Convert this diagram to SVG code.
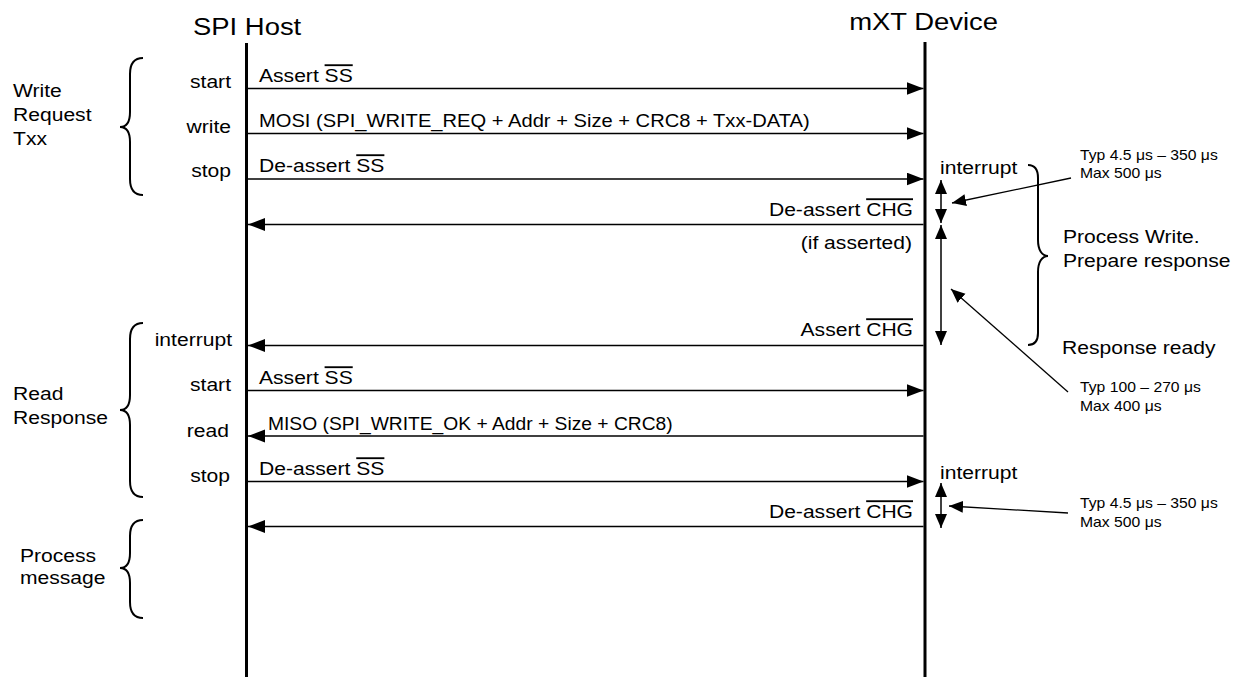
<svg xmlns="http://www.w3.org/2000/svg" width="1233" height="677" viewBox="0 0 1233 677">
<style>
text{font-family:"Liberation Sans",Arial,sans-serif;fill:#000}
.t{font-size:18.5px}
.s{font-size:13.8px}
.h{font-size:24.5px}
.e{text-anchor:end}
.ov{text-decoration:overline}
.life{stroke:#000;stroke-width:3;fill:none}
.msg{stroke:#000;stroke-width:1.5;fill:none;marker-end:url(#ah)}
.dbl{stroke:#000;stroke-width:1.5;fill:none;marker-start:url(#sh);marker-end:url(#sh)}
.ann{stroke:#000;stroke-width:1.3;fill:none;marker-end:url(#sh)}
.br{stroke:#000;stroke-width:2;fill:none}
</style>
<defs>
<marker id="ah" markerUnits="userSpaceOnUse" markerWidth="18" markerHeight="14" refX="17" refY="6.5" orient="auto-start-reverse"><path d="M0,0 L17,6.5 L0,13 z" fill="#000"/></marker>
<marker id="sh" markerUnits="userSpaceOnUse" markerWidth="15" markerHeight="13" refX="14" refY="6" orient="auto-start-reverse"><path d="M0,0 L14,6 L0,12 z" fill="#000"/></marker>
</defs>
<rect width="1233" height="677" fill="#fff"/>

<g id="host">
<line class="life" x1="246.5" y1="43" x2="246.5" y2="677"/>
<text class="h" transform="translate(193 35) scale(1.12 1)">SPI Host</text>
</g>
<g id="device">
<line class="life" x1="925" y1="42" x2="925" y2="677"/>
<text class="h e" transform="translate(998 30) scale(1.12 1)">mXT Device</text>
</g>

<g id="group-write-request">
<path class="br" d="M143,58 C134,58 130,64 130,74 L130,112 C130,122 126,127 120,127 C126,127 130,132 130,142 L130,179 C130,189 134,195 143,195"/>
<text class="t" transform="translate(13 97) scale(1.14 1)">Write</text>
<text class="t" transform="translate(13 121) scale(1.14 1)">Request</text>
<text class="t" transform="translate(13 145) scale(1.14 1)">Txx</text>
</g>
<g id="group-read-response">
<path class="br" d="M143,323 C134,323 130,329 130,339 L130,395 C130,405 126,410 120,410 C126,410 130,415 130,425 L130,481 C130,491 134,497 143,497"/>
<text class="t" transform="translate(13 400) scale(1.14 1)">Read</text>
<text class="t" transform="translate(13 424) scale(1.14 1)">Response</text>
</g>
<g id="group-process-message">
<path class="br" d="M143,520 C134,520 130,526 130,536 L130,553 C130,563 126,568 120,568 C126,568 130,573 130,583 L130,602 C130,612 134,618 143,618"/>
<text class="t" transform="translate(20 562) scale(1.14 1)">Process</text>
<text class="t" transform="translate(20 584) scale(1.14 1)">message</text>
</g>

<g id="host-steps">
<text class="t e" transform="translate(231 88) scale(1.14 1)">start</text>
<text class="t e" transform="translate(231 133) scale(1.14 1)">write</text>
<text class="t e" transform="translate(231 177) scale(1.14 1)">stop</text>
<text class="t e" transform="translate(232 346) scale(1.14 1)">interrupt</text>
<text class="t e" transform="translate(231 391) scale(1.14 1)">start</text>
<text class="t e" transform="translate(229 437) scale(1.14 1)">read</text>
<text class="t e" transform="translate(230 482) scale(1.14 1)">stop</text>
</g>

<g id="connectors">
<line class="msg" x1="248" y1="88.5" x2="923.5" y2="88.5"/>
<line class="msg" x1="248" y1="133.5" x2="923.5" y2="133.5"/>
<line class="msg" x1="248" y1="179" x2="923.5" y2="179"/>
<line class="msg" x1="923.5" y1="224.5" x2="248" y2="224.5"/>
<line class="msg" x1="923.5" y1="345.5" x2="248" y2="345.5"/>
<line class="msg" x1="248" y1="390.5" x2="923.5" y2="390.5"/>
<line class="msg" x1="923.5" y1="436" x2="248" y2="436"/>
<line class="msg" x1="248" y1="481.5" x2="923.5" y2="481.5"/>
<line class="msg" x1="923.5" y1="526.5" x2="248" y2="526.5"/>
<line class="dbl" x1="941" y1="180" x2="941" y2="223"/>
<line class="dbl" x1="941" y1="225" x2="941" y2="345"/>
<line class="dbl" x1="941" y1="483" x2="941" y2="528"/>
<line class="ann" x1="1071" y1="178" x2="952" y2="203"/>
<line class="ann" x1="1068" y1="392" x2="951" y2="289"/>
<line class="ann" x1="1068" y1="513" x2="949" y2="506"/>
</g>

<g id="message-labels">
<text class="t" transform="translate(259 82) scale(1.14 1)">Assert <tspan class="ov">SS</tspan></text>
<text class="t" transform="translate(259 127) scale(1.14 1)" textLength="483" lengthAdjust="spacingAndGlyphs">MOSI (SPI_WRITE_REQ + Addr + Size + CRC8 + Txx-DATA)</text>
<text class="t" transform="translate(259 172) scale(1.14 1)">De-assert <tspan class="ov">SS</tspan></text>
<text class="t e" transform="translate(913 216) scale(1.14 1)">De-assert <tspan class="ov">CHG</tspan></text>
<text class="t e" transform="translate(912 249) scale(1.14 1)">(if asserted)</text>
<text class="t e" transform="translate(913 336) scale(1.14 1)">Assert <tspan class="ov">CHG</tspan></text>
<text class="t" transform="translate(259 384) scale(1.14 1)">Assert <tspan class="ov">SS</tspan></text>
<text class="t" transform="translate(268 430) scale(1.14 1)" textLength="355" lengthAdjust="spacingAndGlyphs">MISO (SPI_WRITE_OK + Addr + Size + CRC8)</text>
<text class="t" transform="translate(259 475) scale(1.14 1)">De-assert <tspan class="ov">SS</tspan></text>
<text class="t e" transform="translate(913 518) scale(1.14 1)">De-assert <tspan class="ov">CHG</tspan></text>
</g>

<g id="device-notes">
<text class="t" transform="translate(940 174) scale(1.14 1)">interrupt</text>
<text class="t" transform="translate(940 479) scale(1.14 1)">interrupt</text>
<path class="br" d="M1028,165 C1035,165 1038,170 1038,178 L1038,240 C1038,250 1042,256 1048,256 C1042,256 1038,262 1038,272 L1038,333 C1038,341 1035,345 1028,345"/>
<text class="t" transform="translate(1063 243) scale(1.14 1)">Process Write.</text>
<text class="t" transform="translate(1063 267) scale(1.14 1)">Prepare response</text>
<text class="t" transform="translate(1062 354) scale(1.14 1)">Response ready</text>
<text class="s" transform="translate(1080 160) scale(1.14 1)">Typ 4.5 μs – 350 μs</text>
<text class="s" transform="translate(1080 178) scale(1.14 1)">Max 500 μs</text>
<text class="s" transform="translate(1080 392) scale(1.14 1)">Typ 100 – 270 μs</text>
<text class="s" transform="translate(1080 411) scale(1.14 1)">Max 400 μs</text>
<text class="s" transform="translate(1080 508) scale(1.14 1)">Typ 4.5 μs – 350 μs</text>
<text class="s" transform="translate(1080 527) scale(1.14 1)">Max 500 μs</text>
</g>
</svg>
